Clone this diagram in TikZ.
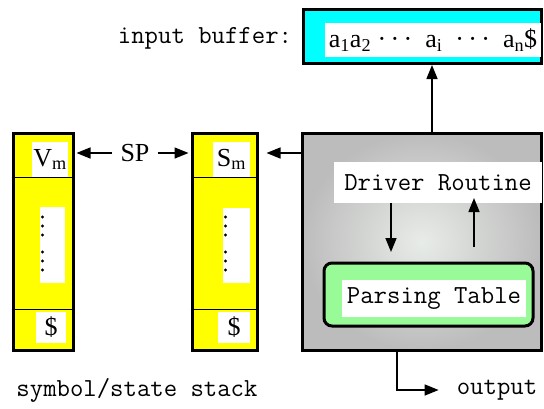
\documentclass[tikz,border=0pt]{standalone}
\usepackage{fontspec}
\setmainfont{Liberation Serif}
\usepackage{tikz}
\usetikzlibrary{arrows.meta,positioning}
\definecolor{ringout}{RGB}{188,188,188}
\definecolor{ringin}{RGB}{232,236,232}
\definecolor{tablegreen}{RGB}{152,251,152}
\definecolor{bufcyan}{RGB}{0,255,255}
\definecolor{stackyellow}{RGB}{255,255,0}
\newcommand{\cdts}{\textperiodcentered\,\textperiodcentered\,\textperiodcentered}
\tikzset{
  frame/.style={draw,line width=3pt,inner sep=0pt},
  blank/.style={fill=white,inner sep=0pt},
  mono/.style={font=\fontsize{26}{30}\selectfont\ttfamily},
  serif/.style={font=\fontsize{26}{30}\selectfont},
  arr/.style={-{Triangle[length=14pt,width=11pt]},line width=1.5pt},
  every node/.style={inner sep=0pt}
}

\begin{document}
\begin{tikzpicture}[x=1pt,y=-1pt]
\useasboundingbox (0,0) rectangle (544,408);
% input buffer
\node[frame,fill=bufcyan,minimum width=238,minimum height=54] (buf) at (422,36.5) {};
\node[blank,serif,minimum width=216,minimum height=34] (tape) at (433,40)
  {a\textsubscript{1}a\textsubscript{2}\ \cdts\ \ a\textsubscript{i}\ \ \cdts\ \ a\textsubscript{n}\$};
\node[mono] (buflabel) at (205,38) {input buffer:};
% stacks
\node[frame,fill=stackyellow,minimum width=60,minimum height=217] (stL) at (43,241.5) {};
\node[frame,fill=stackyellow,minimum width=65,minimum height=217] (stM) at (224.5,241.5) {};
\foreach \s in {stL,stM}{
  \draw[line width=1pt] (\s.west |- 0,177) -- (\s.east |- 0,177);
  \draw[line width=1pt] (\s.west |- 0,309) -- (\s.east |- 0,309);
}
\node[blank,serif,minimum width=36,minimum height=35] (vm) at (50,159.5) {V\textsubscript{m}};
\node[blank,minimum width=25,minimum height=76] (dotsL) at (52.5,245) {};
\node[blank,serif,minimum width=30,minimum height=31] (dolL) at (51,327.5) {\$};
\node[blank,serif,minimum width=37,minimum height=35] (sm) at (231.5,159.5) {S\textsubscript{m}};
\node[blank,minimum width=27,minimum height=75] (dotsM) at (236.5,245.5) {};
\node[blank,serif,minimum width=32,minimum height=31] (dolM) at (234,327.5) {\$};
\foreach \y in {217,226,235,252,261,270}{
  \fill (42.5,\y) circle (1.7);
  \fill (225.5,\y) circle (1.7);
}
\node[serif] (sp) at (135,153) {SP};
% driver
\node[frame,inner color=ringin,outer color=ringout,minimum width=239,minimum height=217] (drv) at (421.5,241.5) {};
\node[blank,mono,minimum width=208,minimum height=41] (routine) at (438,182.5) {Driver Routine};
\node[frame,fill=tablegreen,rounded corners=8pt,minimum width=209,minimum height=63] (ptab) at (428.5,294.5) {};
\node[blank,mono,minimum width=184,minimum height=37] (ptext) at (434,298.5) {Parsing Table};
\node[mono] (out) at (497,390) {output};
\node[mono] (stlabel) at (137,390) {symbol/state stack};
% arrows
\draw[arr] (sp.west) ++(-8,0) -- ([xshift=2pt]stL.east |- sp);
\draw[arr] (sp.east) ++(8,0) -- ([xshift=-2pt]stM.west |- sp);
\draw[arr] (drv.west |- sp) -- ([xshift=8pt]stM.east |- sp);
\draw[arr] ([xshift=10.5pt]drv.north) -- ([xshift=10.5pt]drv.north |- buf.south);
\draw[arr] (routine.south -| 391,0) -- (391,252);
\draw[arr] (474,247) -- (474,198);
\draw[arr] (drv.south -| 397,0) |- ([xshift=-18pt]out.west);
\end{tikzpicture}
\end{document}
